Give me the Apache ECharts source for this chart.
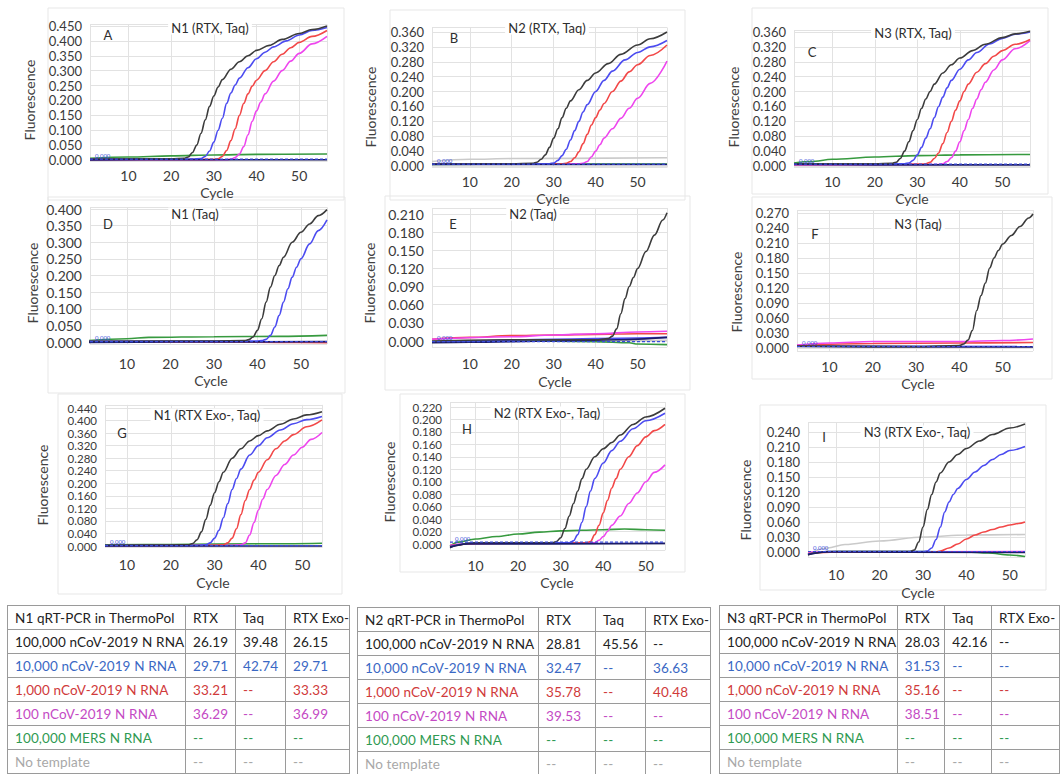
<!DOCTYPE html>
<html>
<head>
<meta charset="utf-8">
<title>qRT-PCR amplification curves</title>
<script src="https://cdn.jsdelivr.net/npm/echarts@6/dist/echarts.min.js"></script>
<style>
  html, body { margin: 0; padding: 0; background: #fff; }
  #page { position: relative; width: 1060px; height: 774px; overflow: hidden; }
  #chart { position: absolute; left: 0; top: 0; width: 1060px; height: 774px; }
  table.ct { position: absolute; border-collapse: collapse; table-layout: fixed;
             font-family: Lato, "Open Sans", sans-serif; font-size: 13.5px; letter-spacing: 0.12px; background: #fff; }
  table.ct td { border: 1px solid #9a9a9a; height: 23px; padding: 0 0 0 7px;
                white-space: nowrap; overflow: hidden; }
</style>
</head>
<body>
<div id="page">
  <div id="chart"></div>
</div>
<script>
// ---- data: fluorescence curves, [cycle, value] ----
// A  N1 (RTX, Taq)
const A_100k = [[1,0.003],[20,0.004],[23,0.006],[24,0.01],[25,0.025],[26,0.05],[27,0.09],[28,0.135],[29,0.18],[30,0.215],[31,0.245],[32,0.27],[34,0.305],[36,0.33],[38,0.35],[40,0.368],[43,0.385],[46,0.405],[50,0.425],[53,0.438],[56.5,0.45]];
const A_10k = [[1,0.002],[25,0.003],[27,0.005],[28,0.012],[29,0.03],[30,0.06],[31,0.1],[32,0.14],[33,0.19],[34,0.225],[35,0.252],[36,0.275],[38,0.31],[40,0.34],[42,0.362],[44,0.38],[47,0.4],[50,0.42],[53,0.435],[56.5,0.445]];
const A_1k = [[1,0.002],[30,0.002],[31,0.004],[32,0.012],[33,0.032],[34,0.065],[35,0.105],[36,0.15],[37,0.19],[38,0.222],[39,0.248],[40,0.268],[42,0.3],[44,0.33],[46,0.355],[48,0.377],[50,0.395],[53,0.415],[56.5,0.435]];
const A_100 = [[1,0.001],[33,0.001],[34,0.003],[35,0.008],[36,0.02],[37,0.045],[38,0.085],[39,0.13],[40,0.165],[41,0.195],[42,0.222],[44,0.265],[46,0.3],[48,0.332],[50,0.358],[53,0.39],[56.5,0.415]];
const A_mers = [[1,0.006],[10,0.01],[20,0.014],[30,0.017],[40,0.019],[56.5,0.02]];
const A_navy = [[1,0.0],[20,0.001],[40,0.001],[56.5,0.001]];
// B  N2 (RTX, Taq)
const B_100k = [[1,0.005],[20,0.006],[25,0.007],[26,0.01],[27,0.018],[28,0.03],[29,0.05],[30,0.075],[31,0.1],[32,0.13],[33,0.155],[34,0.175],[36,0.205],[38,0.23],[40,0.25],[43,0.275],[46,0.3],[50,0.325],[53,0.342],[57,0.36]];
const B_10k = [[1,0.005],[29,0.006],[30,0.008],[31,0.015],[32,0.028],[33,0.045],[34,0.07],[35,0.095],[36,0.12],[37,0.145],[38,0.165],[40,0.2],[42,0.23],[44,0.255],[47,0.285],[50,0.305],[53,0.32],[57,0.337]];
const B_1k = [[1,0.005],[32,0.006],[33,0.007],[34,0.012],[35,0.022],[36,0.038],[37,0.06],[38,0.085],[39,0.11],[40,0.13],[41,0.15],[42,0.168],[44,0.2],[46,0.228],[48,0.253],[50,0.272],[53,0.297],[57,0.325]];
const B_100 = [[1,0.005],[36,0.006],[37,0.007],[38,0.012],[39,0.025],[40,0.04],[41,0.057],[42,0.075],[44,0.1],[46,0.128],[48,0.155],[50,0.182],[53,0.222],[57,0.282]];
const B_mers = [[1,0.004],[20,0.005],[40,0.005],[57,0.005]];
const B_ntc = [[1,0.012],[10,0.018],[20,0.02],[57,0.022]];
const B_navy = [[1,0.004],[57,0.004]];
// C  N3 (RTX, Taq)
const C_100k = [[1,0.006],[20,0.006],[24,0.007],[25,0.01],[26,0.02],[27,0.04],[28,0.065],[29,0.095],[30,0.125],[31,0.155],[32,0.18],[33,0.2],[34,0.22],[36,0.25],[38,0.272],[40,0.29],[43,0.31],[46,0.327],[50,0.345],[53,0.355],[56.5,0.362]];
const C_10k = [[1,0.005],[27,0.006],[28,0.008],[29,0.015],[30,0.03],[31,0.05],[32,0.075],[33,0.1],[34,0.13],[35,0.16],[36,0.185],[37,0.21],[38,0.23],[40,0.26],[42,0.285],[44,0.305],[47,0.328],[50,0.343],[53,0.354],[56.5,0.36]];
const C_1k = [[1,0.004],[31,0.005],[32,0.006],[33,0.01],[34,0.02],[35,0.035],[36,0.06],[37,0.09],[38,0.12],[39,0.15],[40,0.175],[41,0.2],[42,0.22],[44,0.252],[46,0.275],[48,0.295],[50,0.31],[53,0.327],[56.5,0.34]];
const C_100 = [[1,0.003],[35,0.004],[36,0.006],[37,0.012],[38,0.022],[39,0.04],[40,0.065],[41,0.095],[42,0.125],[43,0.155],[44,0.18],[45,0.205],[46,0.225],[48,0.258],[50,0.285],[53,0.315],[56.5,0.337]];
const C_mers = [[1,0.008],[5,0.012],[10,0.018],[20,0.024],[30,0.028],[40,0.03],[56.5,0.031]];
const C_navy = [[1,0.004],[20,0.003],[56.5,0.003]];
// D  N1 (Taq)
const D_100k = [[1,0.002],[30,0.003],[37,0.004],[38,0.007],[39,0.015],[40,0.035],[41,0.07],[42,0.12],[43,0.165],[44,0.2],[45,0.23],[46,0.255],[48,0.3],[50,0.33],[52,0.355],[54,0.38],[56,0.398]];
const D_10k = [[1,0.002],[40,0.003],[41,0.004],[42,0.008],[43,0.02],[44,0.045],[45,0.08],[46,0.12],[47,0.16],[48,0.195],[49,0.225],[50,0.25],[52,0.295],[54,0.335],[56,0.367]];
const D_1k = [[1,0.0],[30,0.0],[45,-0.001],[56,-0.002]];
const D_100 = [[1,0.001],[56,0.0]];
const D_mers = [[1,0.004],[10,0.01],[15,0.014],[30,0.016],[45,0.017],[56,0.02]];
const D_navy = [[1,-0.001],[20,0.0],[56,0.001]];
// E  N2 (Taq)
const E_100k = [[1,0.0],[20,0.002],[40,0.002],[43,0.004],[44,0.008],[45,0.02],[46,0.045],[47,0.07],[48,0.09],[49,0.105],[50,0.12],[52,0.148],[54,0.175],[56,0.2],[57,0.212]];
const E_10k = [[1,-0.002],[10,0.0],[30,0.003],[50,0.005],[57,0.006]];
const E_1k = [[1,0.003],[10,0.006],[20,0.009],[30,0.01],[40,0.011],[50,0.012],[57,0.012]];
const E_100 = [[1,0.003],[20,0.007],[30,0.01],[40,0.012],[50,0.015],[57,0.016]];
const E_mers = [[1,-0.002],[20,0.0],[40,-0.001],[48,-0.003],[50,-0.005],[57,-0.006]];
const E_ntc = [[1,0.0],[57,0.001]];
const E_navy = [[1,-0.003],[10,-0.002],[30,0.0],[45,0.002],[57,0.006]];
// F  N3 (Taq)
const F_100k = [[2.5,0.004],[30,0.003],[40,0.005],[41,0.008],[42,0.016],[43,0.035],[44,0.075],[45,0.105],[46,0.13],[47,0.16],[48,0.18],[49,0.195],[50,0.208],[52,0.225],[54,0.243],[56,0.26],[57,0.268]];
const F_10k = [[2.5,0.004],[57,0.003]];
const F_1k = [[2.5,0.005],[20,0.009],[40,0.01],[57,0.011]];
const F_100 = [[2.5,0.006],[10,0.01],[20,0.013],[30,0.013],[40,0.013],[50,0.015],[57,0.018]];
const F_navy = [[2.5,0.003],[30,0.002],[57,0.002]];
// G  N1 (RTX Exo-, Taq)
const G_100k = [[5,0.002],[20,0.003],[24,0.004],[25,0.008],[26,0.02],[27,0.045],[28,0.085],[29,0.13],[30,0.17],[31,0.205],[32,0.235],[34,0.28],[36,0.31],[38,0.335],[40,0.352],[42,0.367],[45,0.388],[48,0.405],[51,0.418],[54.5,0.428]];
const G_10k = [[5,0.002],[26,0.002],[28,0.004],[29,0.01],[30,0.025],[31,0.05],[32,0.09],[33,0.135],[34,0.18],[35,0.215],[36,0.245],[38,0.29],[40,0.32],[42,0.345],[45,0.37],[48,0.39],[51,0.403],[54.5,0.413]];
const G_1k = [[5,0.001],[30,0.002],[32,0.004],[33,0.01],[34,0.025],[35,0.055],[36,0.1],[37,0.145],[38,0.18],[39,0.21],[40,0.235],[42,0.275],[44,0.31],[46,0.335],[48,0.355],[51,0.38],[54.5,0.402]];
const G_100 = [[5,0.001],[34,0.002],[36,0.004],[37,0.01],[38,0.035],[39,0.075],[40,0.115],[41,0.15],[42,0.18],[44,0.225],[46,0.26],[48,0.29],[50,0.315],[52,0.34],[54.5,0.362]];
const G_mers = [[5,0.004],[20,0.005],[40,0.007],[54.5,0.009]];
const G_navy = [[5,0.0],[54.5,0.0]];
// H  N2 (RTX Exo-, Taq)
const H_100k = [[4,-0.006],[6,-0.002],[8,0.001],[10,0.002],[20,0.002],[28,0.002],[29,0.004],[30,0.01],[31,0.025],[32,0.045],[33,0.065],[34,0.085],[35,0.105],[36,0.12],[38,0.14],[40,0.153],[42,0.163],[44,0.175],[47,0.192],[50,0.204],[54.5,0.218]];
const H_10k = [[4,-0.004],[10,0.002],[32,0.002],[33,0.005],[34,0.015],[35,0.035],[36,0.06],[37,0.085],[38,0.105],[40,0.13],[42,0.15],[44,0.165],[47,0.185],[50,0.198],[54.5,0.21]];
const H_1k = [[4,-0.003],[10,0.001],[36,0.002],[37,0.004],[38,0.015],[39,0.03],[40,0.05],[41,0.07],[42,0.09],[43,0.105],[44,0.12],[46,0.14],[48,0.158],[50,0.172],[52,0.182],[54.5,0.192]];
const H_100 = [[4,-0.002],[10,0.001],[38,0.002],[39,0.006],[40,0.012],[41,0.02],[42,0.03],[44,0.045],[46,0.065],[48,0.082],[50,0.1],[52,0.115],[54.5,0.127]];
const H_mers = [[4,-0.003],[6,0.003],[10,0.008],[15,0.012],[20,0.016],[25,0.019],[30,0.021],[35,0.022],[40,0.023],[45,0.024],[50,0.023],[54.5,0.022]];
const H_navy = [[4,-0.005],[8,0.0],[54.5,0.001]];
// I  N3 (RTX Exo-, Taq)
const I_100k = [[3.5,-0.006],[5,-0.002],[8,0.001],[20,0.001],[27,0.001],[28,0.004],[29,0.02],[30,0.05],[31,0.085],[32,0.115],[33,0.14],[34,0.158],[36,0.18],[38,0.195],[40,0.207],[43,0.222],[46,0.235],[50,0.248],[53.5,0.256]];
const I_10k = [[3.5,-0.004],[8,0.001],[30,0.001],[31,0.002],[32,0.008],[33,0.025],[34,0.05],[35,0.08],[36,0.1],[37,0.115],[38,0.127],[40,0.145],[42,0.16],[44,0.173],[46,0.185],[48,0.195],[50,0.203],[53.5,0.211]];
const I_1k = [[3.5,-0.003],[10,0.0],[33,0.0],[34,0.002],[36,0.008],[38,0.016],[40,0.026],[42,0.034],[44,0.04],[46,0.045],[48,0.05],[50,0.054],[52,0.057],[53.5,0.06]];
const I_100 = [[3.5,0.0],[53.5,0.001]];
const I_mers = [[3.5,-0.004],[10,0.001],[30,0.001],[40,0.0],[45,-0.002],[50,-0.006],[53.5,-0.009]];
const I_ntc = [[3.5,-0.004],[8,0.008],[12,0.015],[20,0.022],[30,0.03],[40,0.034],[53.5,0.035]];
const I_navy = [[3.5,-0.005],[8,0.0],[53.5,-0.001]];

// threshold per panel A..I
const thresholds = [0.003, 0.005, 0.005, 0.001, -0.001, 0.003, 0.001, 0.003, 0.001];

// titles and tick labels
const panelTitles = ['N1 (RTX, Taq)', 'N2 (RTX, Taq)', 'N3 (RTX, Taq)', 'N1 (Taq)', 'N2 (Taq)', 'N3 (Taq)',
                     'N1 (RTX Exo-, Taq)', 'N2 (RTX Exo-, Taq)', 'N3 (RTX Exo-, Taq)'];
const panelLetters = ['A', 'B', 'C', 'D', 'E', 'F', 'G', 'H', 'I'];
const xTickLabels = [10, 20, 30, 40, 50];
const yTickStep = [0.05, 0.04, 0.04, 0.05, 0.03, 0.03, 0.04, 0.02, 0.03];
const yTopTick = [0.45, 0.36, 0.36, 0.40, 0.21, 0.27, 0.44, 0.22, 0.24];

// tables
const rowNames = ['100,000 nCoV-2019 N RNA', '10,000 nCoV-2019 N RNA', '1,000 nCoV-2019 N RNA',
                  '100 nCoV-2019 N RNA', '100,000 MERS N RNA', 'No template'];
const colNames = ['RTX', 'Taq', 'RTX Exo-'];
const n1Ct = [['26.19','39.48','26.15'],['29.71','42.74','29.71'],['33.21','--','33.33'],['36.29','--','36.99'],['--','--','--'],['--','--','--']];
const n2Ct = [['28.81','45.56','--'],['32.47','--','36.63'],['35.78','--','40.48'],['39.53','--','--'],['--','--','--'],['--','--','--']];
const n3Ct = [['28.03','42.16','--'],['31.53','--','--'],['35.16','--','--'],['38.51','--','--'],['--','--','--'],['--','--','--']];

// ---- layout (pixels) ----
// left/right of plot, pixel of y=0, pixel of top tick, axis ranges
const layout = [
  {l: 90,  r: 327,  y0: 160, yT: 26,  yMin: -0.005, yMax: 0.455, xMin: 1,   xMax: 56.5, xLabY: 175,
   title: [210, 28],  letter: [108, 35],  fluor: [29, 100],  cycle: [217, 192], frame: [48, 8, 296, 192]},
  {l: 432, r: 667,  y0: 166, yT: 32,  yMin: -0.004, yMax: 0.372, xMin: 1,   xMax: 57,   xLabY: 181,
   title: [547, 28],  letter: [454, 38],  fluor: [370, 107], cycle: [553, 198], frame: [390, 10, 295, 190]},
  {l: 794, r: 1030, y0: 166, yT: 32,  yMin: -0.004, yMax: 0.365, xMin: 1,   xMax: 56.5, xLabY: 181,
   title: [913, 33],  letter: [812, 52],  fluor: [733, 107], cycle: [912, 198], frame: [752, 8, 296, 186]},
  {l: 90,  r: 327,  y0: 342, yT: 209, yMin: -0.006, yMax: 0.405, xMin: 1.5, xMax: 56,   xLabY: 363,
   title: [195, 214], letter: [108, 224], fluor: [32, 283],  cycle: [211, 380], frame: [48, 197, 297, 196]},
  {l: 432, r: 667,  y0: 341, yT: 214, yMin: -0.01,  yMax: 0.22,  xMin: 1,   xMax: 57,   xLabY: 363,
   title: [533, 214], letter: [453, 224], fluor: [369, 283], cycle: [555, 381], frame: [385, 196, 305, 194]},
  {l: 797, r: 1033, y0: 348, yT: 213, yMin: -0.006, yMax: 0.276, xMin: 2.5, xMax: 57,   xLabY: 366,
   title: [918, 224], letter: [815, 234], fluor: [736, 292], cycle: [918, 383], frame: [752, 197, 300, 182]},
  {l: 105, r: 322,  y0: 546, yT: 408, yMin: -0.005, yMax: 0.45,  xMin: 5,   xMax: 54.5, xLabY: 564,
   title: [207, 415], letter: [122, 433], fluor: [42, 485],  cycle: [213, 582], frame: [58, 394, 284, 200]},
  {l: 450, r: 665,  y0: 544, yT: 407, yMin: -0.01,  yMax: 0.228, xMin: 4,   xMax: 54.5, xLabY: 565,
   title: [547, 413], letter: [467, 429], fluor: [389, 482], cycle: [557, 582], frame: [400, 394, 285, 178]},
  {l: 808, r: 1025, y0: 552, yT: 432, yMin: -0.01,  yMax: 0.26,  xMin: 3.5, xMax: 53.5, xLabY: 574,
   title: [917, 432], letter: [824, 437], fluor: [745, 500], cycle: [918, 592], frame: [760, 405, 286, 185]}
];

const curveColor = {
  k100: '#3c3c3c', k10: '#4c4cf0', k1: '#f24848', h100: '#ee46ee',
  mers: '#379a3f', ntc: '#cacaca', navy: '#1c1c68'
};
const panelCurves = [
  [['mers', A_mers], ['h100', A_100], ['k1', A_1k], ['k10', A_10k], ['k100', A_100k], ['navy', A_navy]],
  [['ntc', B_ntc], ['mers', B_mers], ['h100', B_100], ['k1', B_1k], ['k10', B_10k], ['k100', B_100k], ['navy', B_navy]],
  [['mers', C_mers], ['h100', C_100], ['k1', C_1k], ['k10', C_10k], ['k100', C_100k], ['navy', C_navy]],
  [['mers', D_mers], ['h100', D_100], ['k1', D_1k], ['k10', D_10k], ['k100', D_100k], ['navy', D_navy]],
  [['ntc', E_ntc], ['mers', E_mers], ['k10', E_10k], ['k1', E_1k], ['h100', E_100], ['navy', E_navy], ['k100', E_100k]],
  [['k10', F_10k], ['k1', F_1k], ['h100', F_100], ['navy', F_navy], ['k100', F_100k]],
  [['mers', G_mers], ['h100', G_100], ['k1', G_1k], ['k10', G_10k], ['k100', G_100k], ['navy', G_navy]],
  [['mers', H_mers], ['h100', H_100], ['k1', H_1k], ['k10', H_10k], ['k100', H_100k], ['navy', H_navy]],
  [['ntc', I_ntc], ['mers', I_mers], ['h100', I_100], ['k1', I_1k], ['k10', I_10k], ['k100', I_100k], ['navy', I_navy]]
];

const FONT = 'Lato, "Open Sans", sans-serif';
const grids = [], xAxes = [], yAxes = [], series = [], graphics = [];

layout.forEach((p, i) => {
  const ppu = (p.y0 - p.yT) / yTopTick[i];
  const top = p.y0 - p.yMax * ppu;
  const bottom = p.y0 - p.yMin * ppu;
  const step = yTickStep[i];
  const pitch = step * ppu;               // px between y labels
  const yFont = pitch < 13 ? 11.5 : (pitch < 16 ? 13 : 14);
  grids.push({left: p.l, top: top, width: p.r - p.l, height: bottom - top});
  xAxes.push({
    gridIndex: i, type: 'value', min: p.xMin, max: p.xMax, minInterval: 10, maxInterval: 10,
    axisLine: {show: false}, axisTick: {show: false},
    splitLine: {show: true, lineStyle: {color: '#e2e2e2', width: 1}},
    axisLabel: {
      margin: p.xLabY - bottom - 7, fontSize: 14, color: '#3a3a3a', fontFamily: FONT,
      formatter: v => {
        const r = Math.round(v);
        return (Math.abs(v - r) < 1e-6 && xTickLabels.indexOf(r) >= 0) ? String(r) : '';
      }
    }
  });
  yAxes.push({
    gridIndex: i, type: 'value', min: p.yMin, max: p.yMax, minInterval: step, maxInterval: step,
    axisLine: {show: false}, axisTick: {show: false},
    splitLine: {show: true, lineStyle: {color: '#e2e2e2', width: 1}},
    axisLabel: {
      margin: 8, fontSize: yFont, color: '#3a3a3a', fontFamily: FONT, lineHeight: Math.min(14, pitch - 1),
      formatter: v => {
        const k = v / step;
        if (v < -1e-9 || Math.abs(k - Math.round(k)) > 1e-6 || v > yTopTick[i] + 1e-9) return '';
        return Math.abs(v) < 1e-9 ? '0.000' : v.toFixed(3);
      }
    }
  });

  panelCurves[i].forEach(([key, data]) => {
    series.push({
      type: 'line', xAxisIndex: i, yAxisIndex: i, data: data,
      showSymbol: false, smooth: 0.35, smoothMonotone: 'x', silent: true, clip: true,
      lineStyle: {width: 1.6, color: curveColor[key]}, itemStyle: {color: curveColor[key]}
    });
  });

  // threshold line with its small value tag
  series.push({
    type: 'line', xAxisIndex: i, yAxisIndex: i, silent: true, clip: true,
    symbol: 'circle', symbolSize: 0, showSymbol: true,
    lineStyle: {width: 1.2, type: [3, 2], color: '#3a4cdc'}, itemStyle: {color: '#3a4cdc'},
    data: [
      {value: [p.xMin, thresholds[i]],
       label: {show: true, formatter: '0.000', position: 'right', offset: [0, -4],
               fontSize: 6, color: '#3a4cdc', fontFamily: FONT}},
      [p.xMax, thresholds[i]]
    ]
  });

  graphics.push(
    {type: 'rect', shape: {x: p.frame[0], y: p.frame[1], width: p.frame[2], height: p.frame[3]},
     style: {fill: 'none', stroke: '#e7e7e7', lineWidth: 1}, z: -1, silent: true},
    {type: 'text', x: p.title[0], y: p.title[1], z: 10,
     style: {text: panelTitles[i], fontSize: 13, fill: '#2e2e2e', fontFamily: FONT, align: 'center',
             verticalAlign: 'middle', backgroundColor: '#fff', padding: [0, 3]}},
    {type: 'text', x: p.letter[0], y: p.letter[1], z: 10,
     style: {text: panelLetters[i], fontSize: 13, fill: '#2e2e2e', fontFamily: FONT, align: 'center', verticalAlign: 'middle'}},
    {type: 'text', x: p.fluor[0], y: p.fluor[1], rotation: Math.PI / 2,
     style: {text: 'Fluorescence', fontSize: 14, fill: '#404040', fontFamily: FONT, align: 'center', verticalAlign: 'middle'}},
    {type: 'text', x: p.cycle[0], y: p.cycle[1],
     style: {text: 'Cycle', fontSize: 14, fill: '#404040', fontFamily: FONT, align: 'center', verticalAlign: 'middle'}}
  );
});

const chart = echarts.init(document.getElementById('chart'), null, {renderer: 'svg'});
chart.setOption({
  animation: false,
  backgroundColor: '#fff',
  textStyle: {fontFamily: FONT},
  grid: grids,
  xAxis: xAxes,
  yAxis: yAxes,
  series: series,
  graphic: graphics
});

// ---- Ct tables ----
const rowColor = ['#222222', '#3a68c4', '#d03a3a', '#c44ac4', '#2f9a52', '#a8a8a8'];
function buildTable(name, ct, left, top, widths) {
  const t = document.createElement('table');
  t.className = 'ct';
  t.style.left = left + 'px';
  t.style.top = top + 'px';
  const cg = document.createElement('colgroup');
  widths.forEach(w => { const c = document.createElement('col'); c.style.width = w + 'px'; cg.appendChild(c); });
  t.appendChild(cg);
  const head = document.createElement('tr');
  [name].concat(colNames).forEach(txt => {
    const td = document.createElement('td'); td.textContent = txt; td.style.color = '#222'; head.appendChild(td);
  });
  t.appendChild(head);
  rowNames.forEach((rn, r) => {
    const tr = document.createElement('tr');
    [rn].concat(ct[r]).forEach(txt => {
      const td = document.createElement('td'); td.textContent = txt; td.style.color = rowColor[r]; tr.appendChild(td);
    });
    t.appendChild(tr);
  });
  document.getElementById('page').appendChild(t);
}
buildTable('N1 qRT-PCR in ThermoPol', n1Ct, 7, 605, [178, 50, 50, 64]);
buildTable('N2 qRT-PCR in ThermoPol', n2Ct, 357, 607, [181, 57, 50, 65]);
buildTable('N3 qRT-PCR in ThermoPol', n3Ct, 719, 605, [178, 50, 49, 70]);
</script>
</body>
</html>
